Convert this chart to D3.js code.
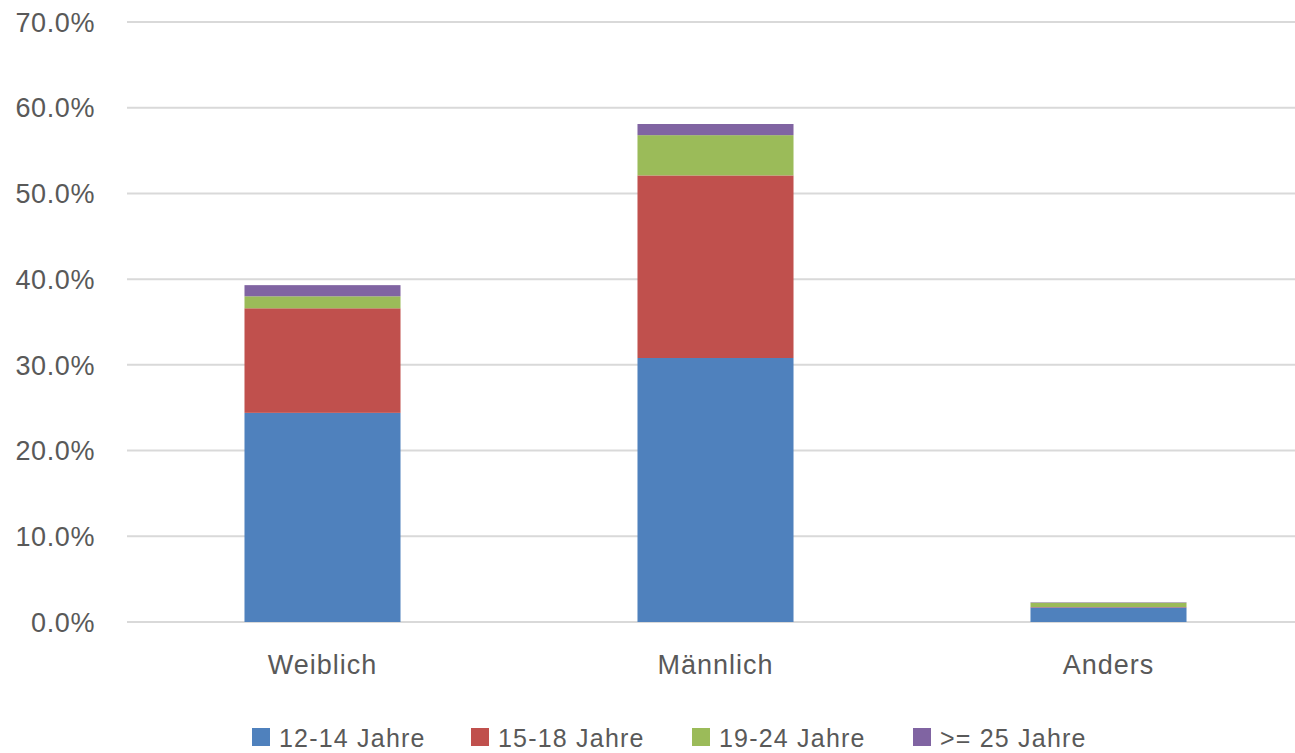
<!DOCTYPE html>
<html>
<head>
<meta charset="utf-8">
<script src="https://cdn.jsdelivr.net/npm/d3@7"></script>
<style>
  html, body { margin: 0; padding: 0; background: #fff; }
  svg { display: block; font-family: "Liberation Sans", Arial, sans-serif; }
</style>
</head>
<body>
<svg id="chart" width="1295" height="753"></svg>
<script>
const categories = ["Weiblich", "Männlich", "Anders"];
const seriesNames = ["12-14 Jahre", "15-18 Jahre", "19-24 Jahre", ">= 25 Jahre"];
const s1214 = [24.4, 30.8, 1.7];
const s1518 = [12.2, 21.3, 0.05];
const s1924 = [1.4, 4.7, 0.5];
const s25plus = [1.3, 1.3, 0.05];
const seriesColors = ["#4f81bd", "#c0504d", "#9bbb59", "#8064a2"];
const yTicks = [0, 10, 20, 30, 40, 50, 60, 70];

const svg = d3.select("#chart");
const textColor = "#595959";

const y = d3.scaleLinear().domain([0, 70]).range([622, 22]);
const x = d3.scaleBand().domain(categories).range([126, 1305])
  .paddingInner(0.603).paddingOuter(0.3015);

// gridlines
svg.append("g").selectAll("line").data(yTicks).join("line")
  .attr("x1", 127).attr("x2", 1295)
  .attr("y1", d => y(d)).attr("y2", d => y(d))
  .attr("stroke", "#d9d9d9").attr("stroke-width", 2);

// y labels
svg.append("g").selectAll("text").data(yTicks).join("text")
  .attr("x", 95).attr("y", d => y(d))
  .attr("dy", "0.36em")
  .attr("text-anchor", "end")
  .attr("font-size", 27)
  .attr("letter-spacing", 0.6)
  .attr("fill", textColor)
  .text(d => d.toFixed(1) + "%");

// stacked data
const rows = categories.map((c, i) => ({
  cat: c,
  [seriesNames[0]]: s1214[i],
  [seriesNames[1]]: s1518[i],
  [seriesNames[2]]: s1924[i],
  [seriesNames[3]]: s25plus[i]
}));
const stacked = d3.stack().keys(seriesNames)(rows);

svg.append("g").selectAll("g").data(stacked).join("g")
  .attr("fill", (d, i) => seriesColors[i])
  .selectAll("rect").data(d => d).join("rect")
  .attr("x", d => x(d.data.cat))
  .attr("width", x.bandwidth())
  .attr("y", d => y(d[1]))
  .attr("height", d => Math.max(0, y(d[0]) - y(d[1])));

// category labels
svg.append("g").selectAll("text").data(categories).join("text")
  .attr("x", d => x(d) + x.bandwidth() / 2)
  .attr("y", 674)
  .attr("text-anchor", "middle")
  .attr("font-size", 27)
  .attr("letter-spacing", 1)
  .attr("fill", textColor)
  .text(d => d);

// legend
const legendX = [252, 471, 692, 913];
const lg = svg.append("g").selectAll("g").data(seriesNames).join("g")
  .attr("transform", (d, i) => `translate(${legendX[i]},0)`);
lg.append("rect")
  .attr("x", 0).attr("y", 728).attr("width", 18).attr("height", 18)
  .attr("fill", (d, i) => seriesColors[i]);
lg.append("text")
  .attr("x", 27).attr("y", 747)
  .attr("font-size", 25)
  .attr("letter-spacing", 1.2)
  .attr("fill", textColor)
  .text(d => d);
</script>
</body>
</html>
